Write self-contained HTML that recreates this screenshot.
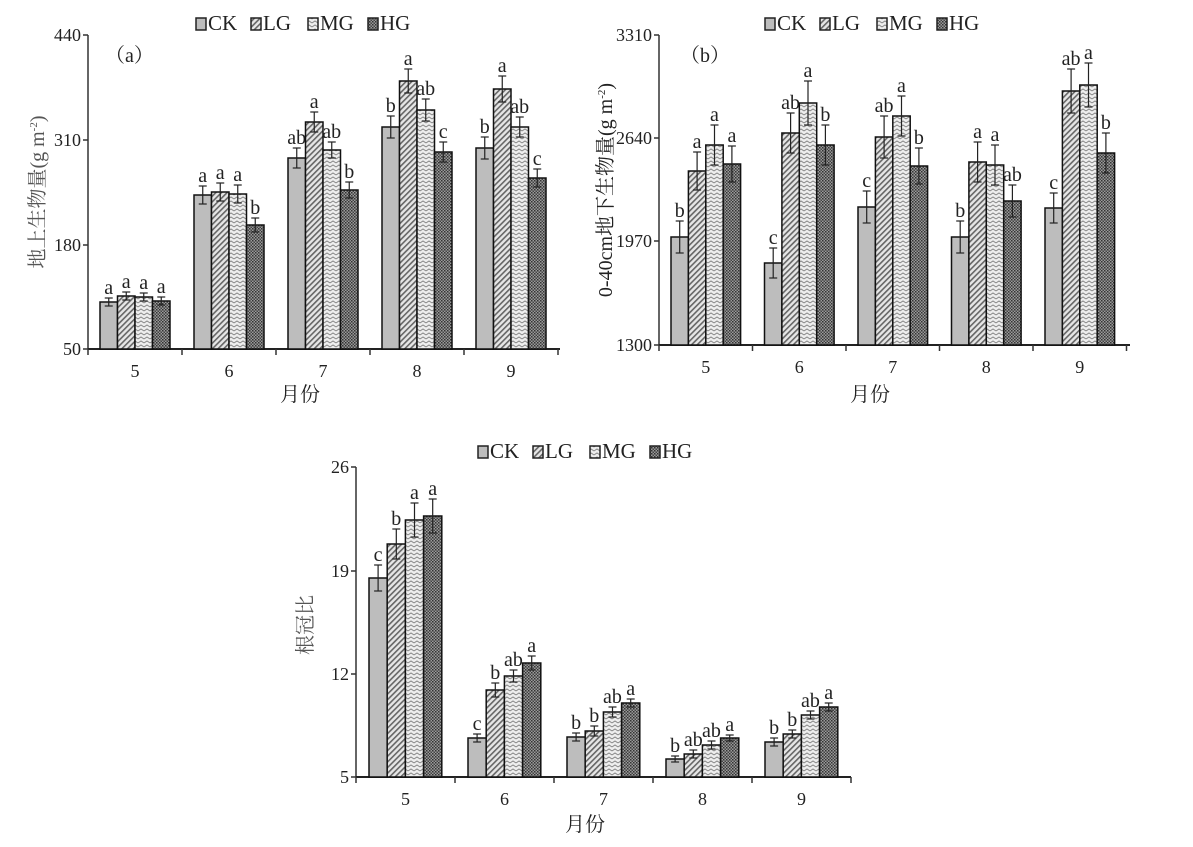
<!DOCTYPE html>
<html><head><meta charset="utf-8"><style>
body{margin:0;background:#fff;}
svg text{font-family:"Liberation Serif","Noto Serif CJK SC",serif;fill:#222;}
</style></head><body>
<svg id="s" width="1193" height="842" xmlns="http://www.w3.org/2000/svg">
<defs>
<pattern id="pLG" width="4" height="4" patternUnits="userSpaceOnUse" patternTransform="rotate(45)">
<rect width="4" height="4" fill="#e6e6e6"/><rect width="1.6" height="4" fill="#666"/></pattern>
<pattern id="pMG" width="6" height="4" patternUnits="userSpaceOnUse">
<rect width="6" height="4" fill="#eee"/><path d="M0 3 L3 1 L6 3" stroke="#888" stroke-width="1" fill="none"/></pattern>
<pattern id="pHG" width="3" height="3" patternUnits="userSpaceOnUse">
<rect width="3" height="3" fill="#9a9a9a"/><rect width="1.5" height="1.5" fill="#333"/><rect x="1.5" y="1.5" width="1.5" height="1.5" fill="#444"/></pattern>
</defs>
</svg>
<script>
const s=document.getElementById('s');let h='';
const fills=['#bdbdbd','url(#pLG)','url(#pMG)','url(#pHG)'];
function legend(x,y){const n=['CK','LG','MG','HG'];const dx=[0,55,112,172];
 n.forEach((t,i)=>{h+=`<rect x="${x+dx[i]}" y="${y-12}" width="10" height="12" fill="${fills[i]}" stroke="#222" stroke-width="1.5"/><text x="${x+dx[i]+12}" y="${y}" font-size="21">${t}</text>`;});}
function panel(o){
 const {ax,top,bot,cw,bw,off,ticks,tops,errs,lets,xend}=o;
 h+=`<line x1="${ax}" y1="${top}" x2="${ax}" y2="${bot}" stroke="#333" stroke-width="1.5"/>`;
 h+=`<line x1="${ax}" y1="${bot}" x2="${xend}" y2="${bot}" stroke="#222" stroke-width="2"/>`;
 ticks.forEach(([v,y])=>{h+=`<line x1="${ax-5}" y1="${y}" x2="${ax}" y2="${y}" stroke="#333" stroke-width="1.5"/><text x="${ax-7}" y="${y+6}" font-size="18" text-anchor="end">${v}</text>`;});
 for(let c=0;c<=5;c++){const x=ax+c*cw;h+=`<line x1="${x}" y1="${bot}" x2="${x}" y2="${bot+6}" stroke="#333" stroke-width="1.5"/>`;}
 for(let c=0;c<5;c++){h+=`<text x="${ax+c*cw+cw/2}" y="${bot+28}" font-size="18" text-anchor="middle">${c+5}</text>`;
  for(let i=0;i<4;i++){const x=ax+c*cw+off+i*bw,t=tops[c][i],e=errs[c][i],cx=x+bw/2;
   h+=`<rect x="${x}" y="${t}" width="${bw}" height="${bot-t}" fill="${fills[i]}" stroke="#111" stroke-width="1.5"/>`;
   h+=`<line x1="${cx}" y1="${t-e}" x2="${cx}" y2="${t+e}" stroke="#222" stroke-width="1.2"/><line x1="${cx-4}" y1="${t-e}" x2="${cx+4}" y2="${t-e}" stroke="#222" stroke-width="1.2"/><line x1="${cx-4}" y1="${t+e}" x2="${cx+4}" y2="${t+e}" stroke="#222" stroke-width="1.2"/>`;
   h+=`<text x="${cx}" y="${t-e-4}" font-size="20" text-anchor="middle">${lets[c][i]}</text>`;}}
}
const L=s=>s.split(' ').map(g=>g.split(','));
panel({ax:88,top:35,bot:349,cw:94,bw:17.5,off:12,xend:560,
 ticks:[[440,35],[310,140],[180,245],[50,349]],
 tops:[[302,296,297,301],[195,192,194,225],[158,122,150,190],[127,81,110,152],[148,89,127,178]],
 errs:[[4,4,4,4],[9,9,9,7],[10,10,8,8],[11,12,11,10],[11,13,10,9]],
 lets:L('a,a,a,a a,a,a,b ab,a,ab,b b,a,ab,c b,a,ab,c')});
h+=`<text x="105" y="62" font-size="20">（a）</text>`;
h+=`<text x="300" y="401" font-size="20" text-anchor="middle">月份</text>`;
h+=`<text transform="translate(44,192) rotate(-90)" font-size="20" text-anchor="middle" style="fill:#555">地上生物量(g m<tspan font-size="11" dy="-7">-2</tspan><tspan dy="7">)</tspan></text>`;
legend(196,30);
panel({ax:659,top:35,bot:345,cw:93.5,bw:17.4,off:12,xend:1130,
 ticks:[[3310,35],[2640,138],[1970,241],[1300,345]],
 tops:[[237,171,145,164],[263,133,103,145],[207,137,116,166],[237,162,165,201],[208,91,85,153]],
 errs:[[16,19,20,18],[15,20,22,20],[16,21,20,18],[16,20,20,16],[15,22,22,20]],
 lets:L('b,a,a,a c,ab,a,b c,ab,a,b b,a,a,ab c,ab,a,b')});
h+=`<text x="680" y="62" font-size="20">（b）</text>`;
h+=`<text x="870" y="401" font-size="20" text-anchor="middle">月份</text>`;
h+=`<text transform="translate(612,190) rotate(-90)" font-size="20" text-anchor="middle">0-40cm地下生物量(g m<tspan font-size="11" dy="-7">-2</tspan><tspan dy="7">)</tspan></text>`;
legend(765,30);
panel({ax:356,top:467,bot:777,cw:99,bw:18.2,off:13,xend:851,
 ticks:[[26,467],[19,571],[12,674],[5,777]],
 tops:[[578,544,520,516],[738,690,676,663],[737,731,712,703],[759,754,745,738],[742,734,715,707]],
 errs:[[13,15,17,17],[4,7,6,7],[4,5,5,4],[3,4,4,3],[4,4,4,4]],
 lets:L('c,b,a,a c,b,ab,a b,b,ab,a b,ab,ab,a b,b,ab,a')});
h+=`<text x="585" y="831" font-size="20" text-anchor="middle">月份</text>`;
h+=`<text transform="translate(312,625) rotate(-90)" font-size="20" text-anchor="middle" style="fill:#555">根冠比</text>`;
legend(478,458);
s.innerHTML+=h;
</script>
</body></html>
